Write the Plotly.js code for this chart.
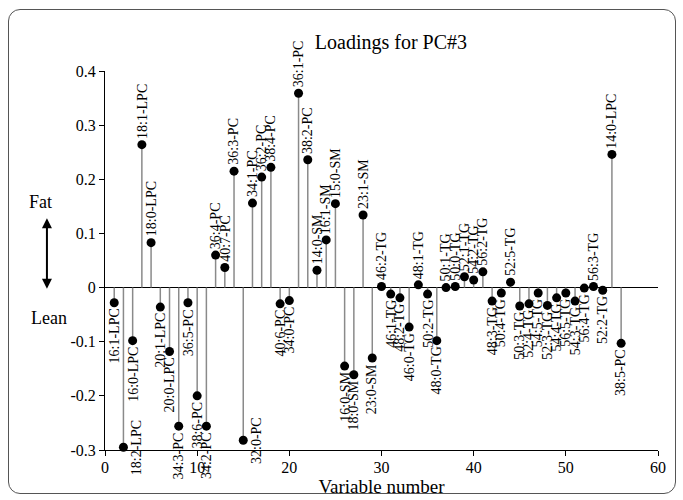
<!DOCTYPE html>
<html>
<head>
<meta charset="utf-8">
<script src="https://cdn.plot.ly/plotly-3.0.1.min.js"></script>
<style>
  html, body { margin: 0; padding: 0; background: #fff; }
  #wrap { position: relative; width: 683px; height: 500px; }
  #chart { width: 683px; height: 500px; }
  #frame { position: absolute; left: 8px; top: 9px; width: 666px; height: 483px;
           border: 1px solid #555; border-radius: 12px; pointer-events: none; }
</style>
</head>
<body>
<div id="wrap"><div id="chart"></div><div id="frame"></div></div>
<script>
// Variable numbers (x) and loadings for PC#3 (y)
const variableNumber = [1,2,3,4,5,6,7,8,9,10,11,12,13,14,15,16,17,18,19,20,21,22,23,24,25,26,27,28,29,30,
  31,32,33,34,35,36,37,38,39,40,41,42,43,44,45,46,47,48,49,50,51,52,53,54,55,56];
const loadings = [-0.028,-0.295,-0.098,0.264,0.083,-0.036,-0.118,-0.256,-0.028,-0.200,
  -0.256,0.060,0.037,0.215,-0.282,0.156,0.204,0.222,-0.030,-0.024,
  0.359,0.236,0.032,0.088,0.155,-0.145,-0.161,0.134,-0.130,0.002,
  -0.012,-0.019,-0.073,0.005,-0.012,-0.098,0.000,0.002,0.020,0.014,
  0.029,-0.025,-0.010,0.010,-0.034,-0.030,-0.010,-0.033,-0.019,-0.010,
  -0.025,-0.001,0.002,-0.005,0.246,-0.103];
const lipidNames = ['16:1-LPC','18:2-LPC','16:0-LPC','18:1-LPC','18:0-LPC','20:1-LPC','20:0-LPC','34:3-PC','36:5-PC','38:6-PC',
  '34:2-PC','36:4-PC','40:7-PC','36:3-PC','32:0-PC','34:1-PC','36:2-PC','38:4-PC','40:6-PC','34:0-PC',
  '36:1-PC','38:2-PC','14:0-SM','16:1-SM','15:0-SM','16:0-SM','18:0-SM','23:1-SM','23:0-SM','46:2-TG',
  '46:1-TG','48:2-TG','46:0-TG','48:1-TG','50:2-TG','48:0-TG','50:1-TG','50:0-TG','52:1-TG','54:2-TG',
  '56:2-TG','48:3-TG','50:4-TG','52:5-TG','50:3-TG','52:4-TG','54:5-TG','52:3-TG','54:4-TG','56:5-TG',
  '54:3-TG','56:4-TG','56:3-TG','52:2-TG','14:0-LPC','38:5-PC'];
const yTickVals = [-0.3,-0.2,-0.1,0,0.1,0.2,0.3,0.4];
const yTickText = ['-0.3','-0.2','-0.1','0','0.1','0.2','0.3','0.4'];
const xTickVals = [0,10,20,30,40,50,60];
const xTickText = ['0','10','20','30','40','50','60'];

const FONT = 'Liberation Serif, Times New Roman, serif';

// stems built from the data
const stemX = [], stemY = [];
variableNumber.forEach((x, i) => { stemX.push(x, x, null); stemY.push(0, loadings[i], null); });

const stems = {
  x: stemX, y: stemY, type: 'scatter', mode: 'lines',
  line: { color: '#8a8a8a', width: 1.5 }, hoverinfo: 'skip', showlegend: false, cliponaxis: false
};
const points = {
  x: variableNumber, y: loadings, type: 'scatter', mode: 'markers',
  marker: { color: '#000', size: 9 }, showlegend: false, cliponaxis: false
};

const annotations = variableNumber.map((x, i) => {
  const v = loadings[i];
  const base = {
    x: x, y: v, xref: 'x', yref: 'y', text: lipidNames[i],
    textangle: -90, showarrow: false,
    font: { family: FONT, size: 14, color: '#000' }, borderpad: 0
  };
  if (v >= 0) return Object.assign(base, { xanchor: 'center', yanchor: 'bottom', yshift: 5 });
  // labels near the bottom of the axis would run off the figure: put them beside the point
  if (v < -0.27) return Object.assign(base, { xanchor: 'left', yanchor: 'middle', xshift: 4 });
  return Object.assign(base, { xanchor: 'center', yanchor: 'top', yshift: -5 });
});

// Fat / Lean direction indicator
annotations.push(
  { xref: 'paper', yref: 'y', x: -0.117, y: 0.158, text: 'Fat', showarrow: false,
    font: { family: FONT, size: 18, color: '#000' }, xanchor: 'center', yanchor: 'middle' },
  { xref: 'paper', yref: 'y', x: -0.101, y: -0.057, text: 'Lean', showarrow: false,
    font: { family: FONT, size: 18, color: '#000' }, xanchor: 'center', yanchor: 'middle' },
  { xref: 'paper', yref: 'y', x: -0.105, y: 0.128, text: '', showarrow: true,
    axref: 'pixel', ayref: 'pixel', ax: 0, ay: 72,
    arrowhead: 2, arrowside: 'end+start', arrowsize: 1, arrowwidth: 2, arrowcolor: '#000',
    standoff: 0, startstandoff: 0 }
);

const layout = {
  width: 683, height: 500,
  margin: { l: 105, r: 25, t: 71, b: 50 },
  paper_bgcolor: '#fff', plot_bgcolor: '#fff',
  font: { family: FONT, color: '#000', size: 16 },
  title: { text: 'Loadings for PC#3', font: { family: FONT, size: 20, color: '#000' },
           x: 0.517, xref: 'paper', xanchor: 'center', y: 0.916, yref: 'container', yanchor: 'middle' },
  xaxis: {
    range: [0, 60], tickvals: xTickVals, ticktext: xTickText,
    showgrid: false, zeroline: false, showline: true, linecolor: '#000', linewidth: 1,
    ticks: 'outside', ticklen: 5, tickcolor: '#000', tickfont: { family: FONT, size: 16 },
    ticklabelstandoff: -2,
    title: { text: 'Variable number', font: { family: FONT, size: 19 }, standoff: 0 }
  },
  yaxis: {
    range: [-0.3, 0.4], tickvals: yTickVals, ticktext: yTickText,
    showgrid: false, zeroline: true, zerolinecolor: '#000', zerolinewidth: 1,
    showline: true, linecolor: '#000', linewidth: 1,
    ticks: 'outside', ticklen: 5, tickcolor: '#000', tickfont: { family: FONT, size: 16 }
  },
  annotations: annotations,
  showlegend: false
};

Plotly.newPlot('chart', [stems, points], layout, { displayModeBar: false, staticPlot: true });
</script>
</body>
</html>
